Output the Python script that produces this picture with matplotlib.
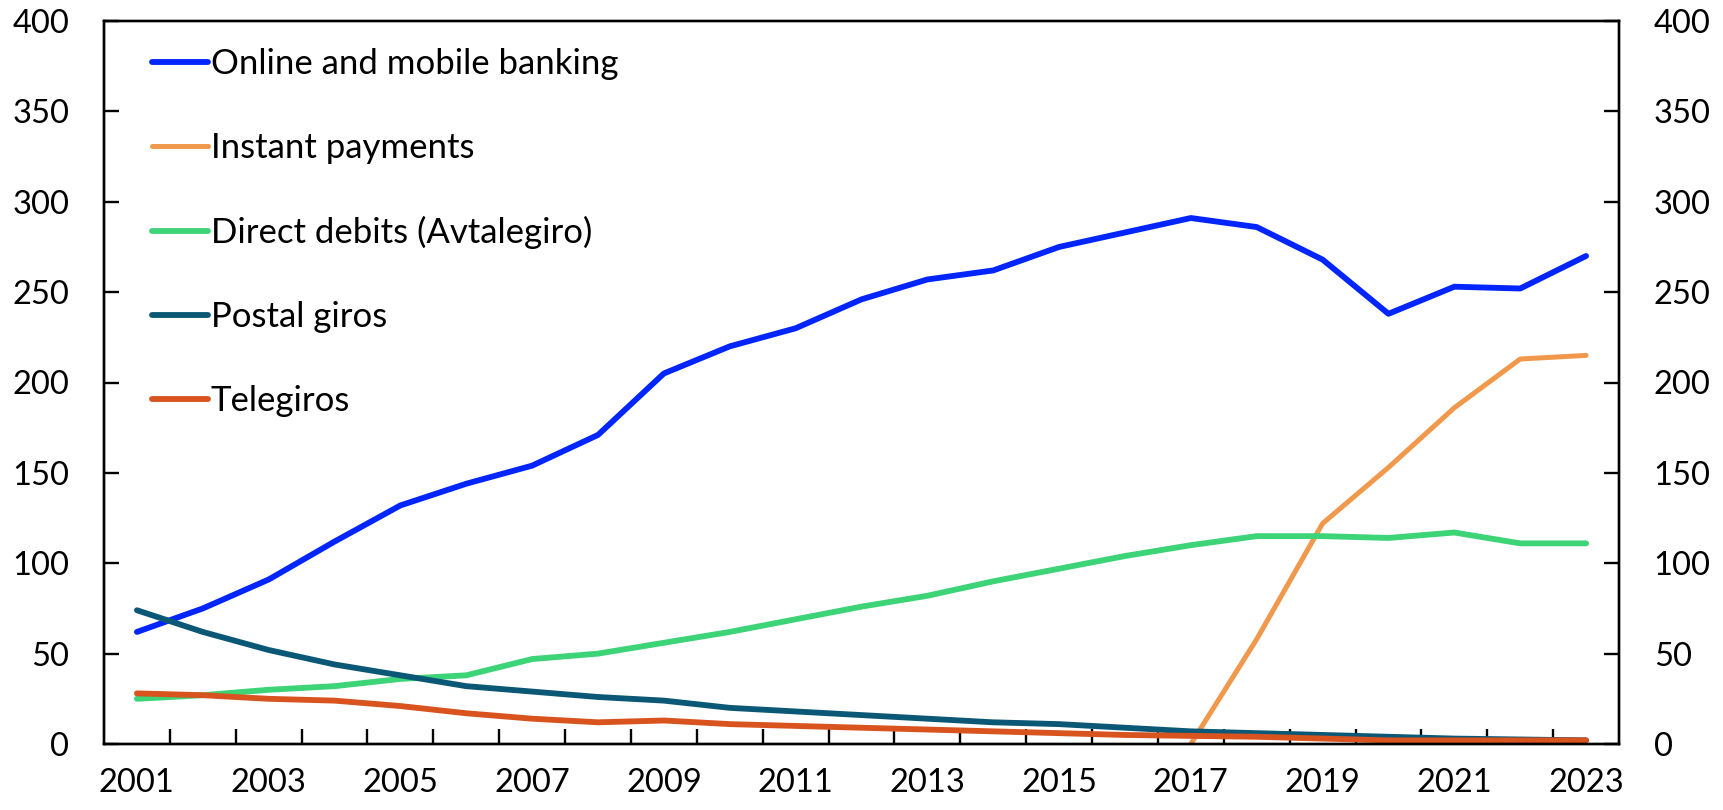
import matplotlib
matplotlib.use("Agg")
import matplotlib.pyplot as plt
import numpy as np

years = list(range(2001, 2024))
online_mobile = [62, 75, 91, 112, 132, 144, 154, 171, 205, 220, 230, 246, 257, 262,
                 275, 283, 291, 286, 268, 238, 253, 252, 270]
instant = [np.nan] * 16 + [0, 58, 122, 153, 186, 213, 215]
direct_debits = [25, 27, 30, 32, 36, 38, 47, 50, 56, 62, 69, 76, 82, 90, 97, 104,
                 110, 115, 115, 114, 117, 111, 111]
postal_giros = [74, 62, 52, 44, 38, 32, 29, 26, 24, 20, 18, 16, 14, 12, 11, 9, 7,
                6, 5, 4, 3, 2.5, 2]
telegiros = [28, 27, 25, 24, 21, 17, 14, 12, 13, 11, 10, 9, 8, 7, 6, 5, 4.5, 4, 3,
             2, 2, 2, 2]
labels = ["Online and mobile banking", "Instant payments", "Direct debits (Avtalegiro)",
          "Postal giros", "Telegiros"]
colors = ["#0025FF", "#F0984C", "#3DD377", "#0B5876", "#D9531E"]
yticks = [0, 50, 100, 150, 200, 250, 300, 350, 400]

plt.rcParams['font.family'] = ['Lato', 'DejaVu Sans']

fig = plt.figure(figsize=(17.23, 8.10), dpi=100)
ax = fig.add_axes([104 / 1723, 66 / 810, 1515 / 1723, 723 / 810])

series = [online_mobile, instant, direct_debits, postal_giros, telegiros]
widths = [4.2, 3.6, 4.2, 4.2, 4.2]
for s, lab, c, w in zip(series, labels, colors, widths):
    ax.plot(years, s, color=c, lw=w, label=lab, solid_capstyle='round',
            solid_joinstyle='round')

ax.set_xlim(2000.5, 2023.5)
ax.set_ylim(0, 400)
ax.set_yticks(yticks)
ax.set_xticks([y + 0.5 for y in years[:-1]])
ax.set_xticklabels([])
ax.set_xticks(years[::2], minor=True)
ax.set_xticklabels([str(y) for y in years[::2]], minor=True)
ax.tick_params(axis='x', which='major', direction='in', length=11, width=1.7)
ax.tick_params(axis='x', which='minor', length=0, pad=17, labelsize=23.5)
ax.tick_params(axis='y', direction='in', length=11, width=1.7, pad=25, labelsize=23.5)
for sp in ax.spines.values():
    sp.set_linewidth(1.7)

ax2 = ax.twinx()
ax2.set_ylim(0, 400)
ax2.set_yticks(yticks)
ax2.tick_params(axis='y', direction='in', length=11, width=1.7, pad=25, labelsize=23.5)
for sp in ax2.spines.values():
    sp.set_linewidth(1.7)

leg = ax.legend(loc='upper left', bbox_to_anchor=(0.032, 0.962), frameon=False,
                fontsize=25, handlelength=1.6, handletextpad=0.08,
                labelspacing=1.495, borderpad=0, borderaxespad=0)

fig.savefig("out.png", dpi=100)
